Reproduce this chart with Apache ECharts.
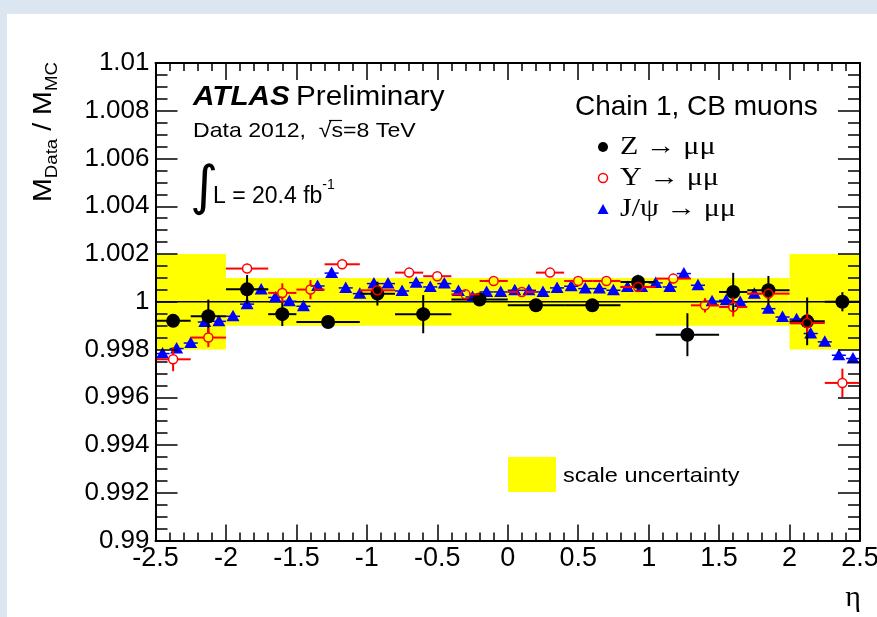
<!DOCTYPE html>
<html><head><meta charset="utf-8">
<script src="https://cdn.jsdelivr.net/npm/echarts@6/dist/echarts.min.js"></script>
<style>html,body{margin:0;padding:0;background:#fff}#c{width:877px;height:617px}</style>
</head><body><div id="c"></div>
<script>
// ---- Data ----
const zEta  = [-2.375,-2.125,-1.85,-1.6,-1.275,-0.925,-0.6,-0.2,0.2,0.6,0.925,1.275,1.6,1.85,2.125,2.375];
const zVal  = [0.99920,0.99939,1.00052,0.99948,0.99915,1.00034,0.99948,1.00009,0.99985,0.99985,1.00083,0.99862,1.00041,1.00048,0.99918,1.00000];
const zXerr = [0.125,0.125,0.15,0.1,0.225,0.125,0.2,0.2,0.2,0.2,0.125,0.225,0.1,0.15,0.125,0.125];
const zYerr = [0.0002,0.0007,0.0006,0.0005,0.0002,0.0005,0.0008,0.0002,0.0002,0.0002,0.0003,0.0009,0.0008,0.0006,0.0010,0.0004];

const upsEta  = [-2.375,-2.125,-1.85,-1.6,-1.4,-1.175,-0.925,-0.7,-0.5,-0.3,-0.1,0.1,0.3,0.5,0.7,0.925,1.175,1.4,1.6,1.85,2.125,2.375];
const upsVal  = [0.99759,0.99850,1.00139,1.00037,1.00051,1.00157,1.00048,1.00122,1.00107,1.00031,1.00087,1.00041,1.00122,1.00087,1.00087,1.00062,1.00097,0.99985,0.99978,1.00034,0.99911,0.99660];
const upsXerr = [0.125,0.125,0.15,0.1,0.1,0.125,0.125,0.1,0.1,0.1,0.1,0.1,0.1,0.1,0.1,0.125,0.125,0.1,0.1,0.15,0.125,0.125];
const upsYerr = [0.0005,0.0004,0.0002,0.0004,0.0004,0.0002,0.0002,0.0002,0.0001,0.0001,0.0001,0.0001,0.0001,0.0001,0.0001,0.0001,0.0002,0.0003,0.0004,0.0002,0.0004,0.0006];

const jpsiEta = [-2.45,-2.35,-2.25,-2.15,-2.05,-1.95,-1.85,-1.75,-1.65,-1.55,-1.45,-1.35,-1.25,-1.15,-1.05,-0.95,-0.85,-0.75,-0.65,-0.55,-0.45,-0.35,-0.25,-0.15,-0.05,
                 0.05,0.15,0.25,0.35,0.45,0.55,0.65,0.75,0.85,0.95,1.05,1.15,1.25,1.35,1.45,1.55,1.65,1.75,1.85,1.95,2.05,2.15,2.25,2.35,2.45];
const jpsiVal = [0.99783,0.99804,0.99827,0.99915,0.99918,0.99939,0.99990,1.00051,1.00018,1.00002,0.99981,1.00066,1.00120,1.00058,1.00034,1.00076,1.00076,1.00045,1.00080,1.00062,1.00076,1.00045,1.00020,1.00041,1.00041,
                 1.00048,1.00048,1.00041,1.00058,1.00065,1.00055,1.00055,1.00048,1.00062,1.00062,1.00079,1.00062,1.00118,1.00069,1.00002,1.00006,0.99999,1.00034,0.99971,0.99936,0.99927,0.99867,0.99832,0.99776,0.99762];
const jpsiXerr = 0.05;

// scale uncertainty band: [etaLow, etaHigh, low, high]
const bandLow  = [-2.5,-2.0,2.0];
const bandHigh = [-2.0,2.0,2.5];
const bandMin  = [0.998,0.999,0.998];
const bandMax  = [1.002,1.001,1.002];
const unityLine = [[-2.5,1],[2.5,1]];

const xRange = [-2.5, 2.5], xStep = 0.5;
const yRange = [0.99, 1.01], yStep = 0.002;

// ---- Chart ----
const chart = echarts.init(document.getElementById('c'), null, {renderer:'canvas'});
const FONT = 'Liberation Sans';
const SERIF = 'Liberation Serif';

function tickAxis(pos, isX, show){
  const base = {
    type:'value', position:pos, z:10,
    axisLine:{show:true, onZero:false, lineStyle:{color:'#000', width:2}},
    splitLine:{show:false},
    axisTick:{show:true, inside:true, length: isX ? (pos==='top'?17:16) : 22, lineStyle:{color:'#000', width:1.5}},
    minorTick:{show:true, inside:true, splitNumber: isX ? 5 : 4, length: isX ? 8 : 12, lineStyle:{color:'#000', width:1.5}},
    axisLabel:{show:show}
  };
  if (isX){ base.min = xRange[0]; base.max = xRange[1]; base.interval = xStep; }
  else { base.min = yRange[0]; base.max = yRange[1]; base.interval = yStep; }
  return base;
}

const xBottom = tickAxis('bottom', true, true);
xBottom.axisLabel = {show:true, margin:5, color:'#000', fontFamily:FONT, fontSize:27,
  formatter: v => String(+(+v).toFixed(1)), showMinLabel:true, showMaxLabel:true, hideOverlap:false};
const xTop = tickAxis('top', true, false);
const yLeft = tickAxis('left', false, true);
yLeft.axisLabel = {show:true, margin:6, color:'#000', fontFamily:FONT, fontSize:26,
  formatter: v => String(+(+v).toFixed(3)), showMinLabel:true, showMaxLabel:true, hideOverlap:false};
const yRight = tickAxis('right', false, false);

const bandData = bandLow.map((l,i)=>[l, bandHigh[i], bandMin[i], bandMax[i]]);
const zData = zEta.map((e,i)=>[e, zVal[i], zXerr[i], zYerr[i]]);
const upsData = upsEta.map((e,i)=>[e, upsVal[i], upsXerr[i], upsYerr[i]]);
const jpsiData = jpsiEta.map((e,i)=>[e, jpsiVal[i], jpsiXerr]);

function seg(x1,y1,x2,y2,color,w){
  return {type:'line', shape:{x1,y1,x2,y2}, style:{stroke:color, lineWidth:w}};
}

option = {
  backgroundColor:'#dce6f1',
  animation:false,
  grid:{left:155.5, right:17, top:63, bottom:76.5, containLabel:false, outerBoundsMode:'none'},
  xAxis:[xBottom, xTop],
  yAxis:[yLeft, yRight],
  graphic:[
    {type:'rect', z:-100, silent:true, shape:{x:7,y:14,width:870,height:603}, style:{fill:'#ffffff'}},
    // y axis title
    {type:'text', x:46, y:62, rotation:Math.PI/2, scaleX:1.1,
      style:{text:'{m|M}{s|Data}{m| / M}{s|MC}', align:'right', verticalAlign:'middle',
        rich:{m:{fontFamily:FONT, fontSize:26, lineHeight:30, verticalAlign:'top', fill:'#000'},
              s:{fontFamily:FONT, fontSize:17, lineHeight:20, verticalAlign:'bottom', fill:'#000'}}}},
    {type:'text', x:853, y:598, style:{text:'η', fontFamily:SERIF, fontSize:30, align:'center', verticalAlign:'middle', fill:'#000'}},
    // ATLAS label
    {type:'text', x:193, y:98, scaleX:1.1, style:{text:'ATLAS', fontFamily:FONT, fontSize:27, fontWeight:'bold', fontStyle:'italic', verticalAlign:'middle', fill:'#000'}},
    {type:'text', x:296, y:98, scaleX:1.1, style:{text:'Preliminary', fontFamily:FONT, fontSize:27, verticalAlign:'middle', fill:'#000'}},
    {type:'text', x:193, y:131, scaleX:1.1, style:{text:'Data 2012,  \u221As=8 TeV', fontFamily:FONT, fontSize:21, verticalAlign:'middle', fill:'#000'}},
    {type:'line', shape:{x1:329, y1:120.5, x2:342, y2:120.5}, style:{stroke:'#000', lineWidth:1.2}},
    {type:'text', x:190, y:190, style:{text:'\u222B', fontFamily:'DejaVu Sans', fontSize:54, verticalAlign:'middle', fill:'#000'}},
    {type:'text', x:213, y:193, style:{text:'{a|L = 20.4 fb}{b|-1}', verticalAlign:'middle',
      rich:{a:{fontFamily:FONT, fontSize:23, lineHeight:30, verticalAlign:'bottom', fill:'#000'},
            b:{fontFamily:FONT, fontSize:14, lineHeight:14, verticalAlign:'top', fill:'#000'}}}},
    // legend
    {type:'text', x:575, y:107, style:{text:'Chain 1, CB muons', fontFamily:FONT, fontSize:28, verticalAlign:'middle', fill:'#000'}},
    {type:'circle', shape:{cx:603, cy:147, r:5}, style:{fill:'#000'}},
    {type:'text', x:620, y:147, scaleX:1.2, style:{text:'Z \u2192 \u03BC\u03BC', fontFamily:SERIF, fontSize:25, verticalAlign:'middle', fill:'#000'}},
    {type:'circle', shape:{cx:603, cy:178, r:4.5}, style:{fill:'none', stroke:'#ff0000', lineWidth:1.5}},
    {type:'text', x:620, y:178, scaleX:1.2, style:{text:'\u03A5 \u2192 \u03BC\u03BC', fontFamily:SERIF, fontSize:25, verticalAlign:'middle', fill:'#000'}},
    {type:'polygon', shape:{points:[[603,204],[597.5,214],[608.5,214]]}, style:{fill:'#0000ff'}},
    {type:'text', x:620, y:209, scaleX:1.2, style:{text:'J/\u03C8 \u2192 \u03BC\u03BC', fontFamily:SERIF, fontSize:25, verticalAlign:'middle', fill:'#000'}},
    {type:'rect', shape:{x:508, y:457, width:48, height:35}, style:{fill:'#ffff00'}},
    {type:'text', x:563, y:476, scaleX:1.12, style:{text:'scale uncertainty', fontFamily:FONT, fontSize:21, verticalAlign:'middle', fill:'#000'}}
  ],
  series:[
    {type:'custom', name:'band', z:1, data:bandData, encode:{x:[0,1], y:[2,3]}, clip:true,
      renderItem(params, api){
        const p0 = api.coord([api.value(0), api.value(3)]);
        const p1 = api.coord([api.value(1), api.value(2)]);
        return {type:'rect', shape:{x:p0[0], y:p0[1], width:p1[0]-p0[0], height:p1[1]-p0[1]}, style:{fill:'#ffff00'}};
      }},
    {type:'line', name:'unity', z:2, data:unityLine, symbol:'none', lineStyle:{color:'#000', width:1.5}},
    {type:'custom', name:'J/psi', z:3, data:jpsiData, encode:{x:0, y:1},
      renderItem(params, api){
        const x=api.value(0), y=api.value(1), ex=api.value(2);
        const p=api.coord([x,y]), l=api.coord([x-ex,y]), r=api.coord([x+ex,y]);
        return {type:'group', children:[
          seg(l[0],p[1],r[0],p[1],'#0000ff',1.5),
          {type:'polygon', shape:{points:[[p[0],p[1]-6.5],[p[0]-6.5,p[1]+5],[p[0]+6.5,p[1]+5]]}, style:{fill:'#0000ff'}}
        ]};
      }},
    {type:'custom', name:'Z', z:4, data:zData, encode:{x:0, y:1},
      renderItem(params, api){
        const x=api.value(0), y=api.value(1), ex=api.value(2), ey=api.value(3);
        const p=api.coord([x,y]), l=api.coord([x-ex,y]), r=api.coord([x+ex,y]);
        const t=api.coord([x,y+ey]), b=api.coord([x,y-ey]);
        return {type:'group', children:[
          seg(l[0],p[1],r[0],p[1],'#000',2),
          seg(p[0],t[1],p[0],b[1],'#000',2),
          {type:'circle', shape:{cx:p[0], cy:p[1], r:7}, style:{fill:'#000'}}
        ]};
      }},
    {type:'custom', name:'Upsilon', z:5, data:upsData, encode:{x:0, y:1},
      renderItem(params, api){
        const x=api.value(0), y=api.value(1), ex=api.value(2), ey=api.value(3);
        const p=api.coord([x,y]), l=api.coord([x-ex,y]), r=api.coord([x+ex,y]);
        const t=api.coord([x,y+ey]), b=api.coord([x,y-ey]);
        const R=4.5;
        const ch=[
          seg(l[0],p[1],p[0]-R,p[1],'#ff0000',2),
          seg(p[0]+R,p[1],r[0],p[1],'#ff0000',2)
        ];
        if (p[1]-R > t[1]) ch.push(seg(p[0],t[1],p[0],p[1]-R,'#ff0000',2));
        if (b[1] > p[1]+R) ch.push(seg(p[0],p[1]+R,p[0],b[1],'#ff0000',2));
        ch.push({type:'circle', shape:{cx:p[0], cy:p[1], r:R}, style:{fill:'none', stroke:'#ff0000', lineWidth:1.5}});
        return {type:'group', children:ch};
      }}
  ]
};
chart.setOption(option);
</script>
</body></html>
